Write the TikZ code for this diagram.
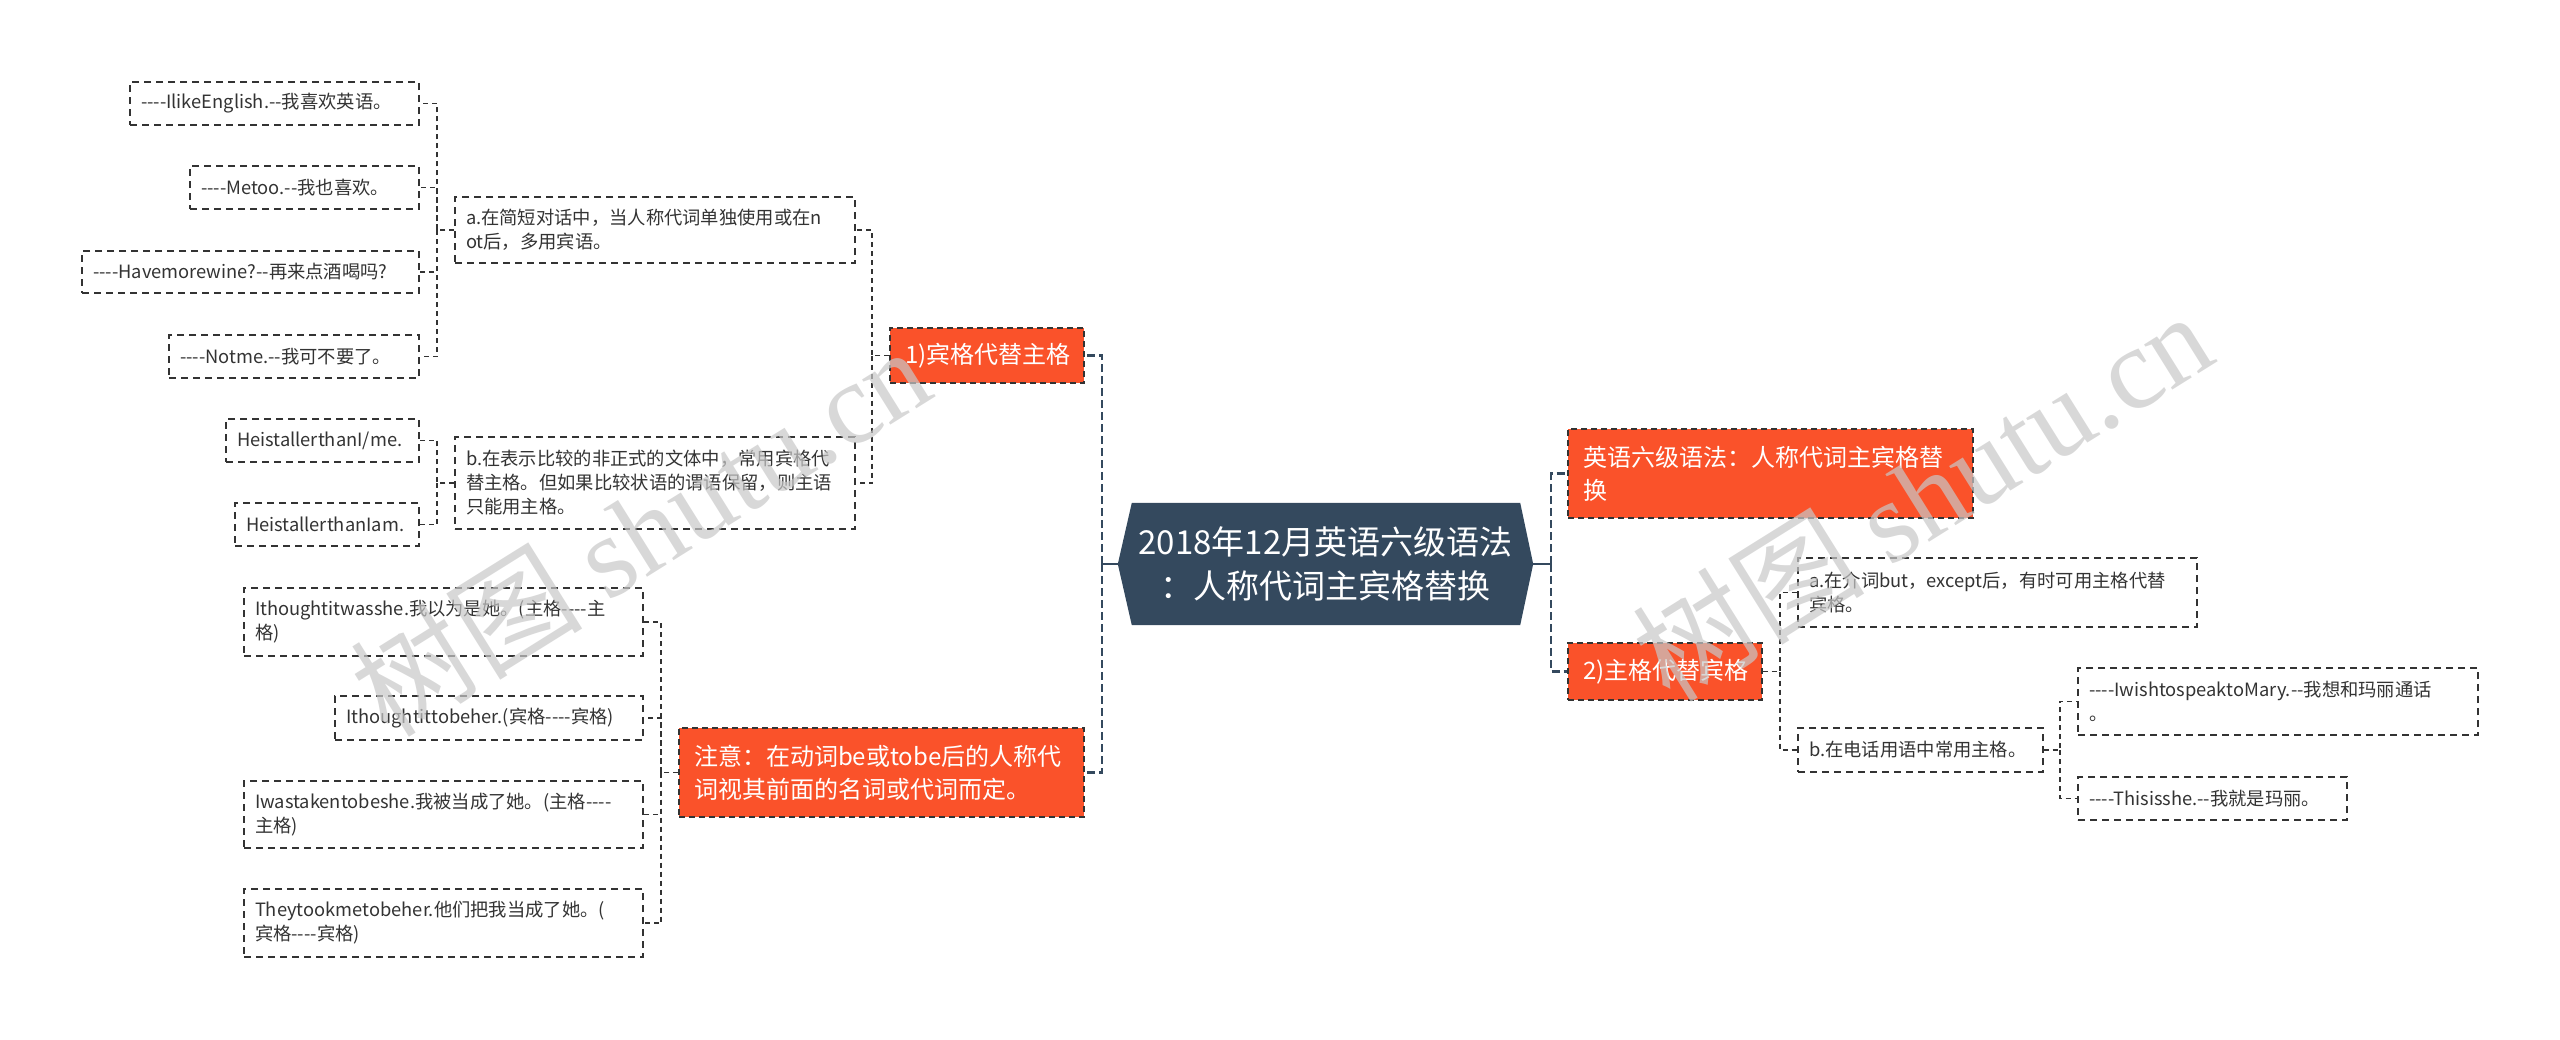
\documentclass[tikz,border=0pt]{standalone}
\usepackage{fontspec}
\setmainfont{Noto Sans CJK SC}[Ligatures=TeXOff]
\newfontfamily\wmfont{Liberation Serif}[Ligatures=TeXOff]
\usetikzlibrary{backgrounds}
\definecolor{orangec}{RGB}{250,82,42}
\definecolor{slatec}{RGB}{52,73,94}
\definecolor{linec}{RGB}{51,51,51}
\definecolor{textc}{RGB}{51,51,51}
\definecolor{wmc}{RGB}{200,200,200}
\begin{document}
\begin{tikzpicture}[x=1pt,y=-1pt,
  leaf/.style={draw=linec, line width=1.3pt, dash pattern=on 7pt off 5pt, fill=white,
    text=textc, font=\fontsize{18.3}{24}\selectfont, align=left, inner xsep=11pt, inner ysep=0pt},
  topic/.style={draw=linec, line width=1.3pt, dash pattern=on 6pt off 4pt, fill=orangec,
    text=white, font=\fontsize{24}{33}\selectfont, align=left, inner xsep=15pt, inner ysep=0pt},
  mainnode/.style={text=white, font=\fontsize{33}{44}\selectfont, align=center, inner sep=0pt},
  conn/.style={draw=linec, line width=1.8pt, dash pattern=on 5pt off 4pt},
  mconn/.style={draw=slatec, line width=2.6pt, dash pattern=on 8pt off 4pt},
  wm/.style={text=wmc, opacity=0.7, font=\fontsize{116}{116}\selectfont, inner sep=0pt}
]
\useasboundingbox (0,0) rectangle (2560,1039);

% bus coordinates
\coordinate (bx1) at (437,0);
\coordinate (bx2) at (872,0);
\coordinate (bx3) at (1102,0);
\coordinate (bx4) at (661,0);
\coordinate (bx5) at (1551,0);
\coordinate (bx6) at (1780,0);
\coordinate (bx7) at (2060,0);

% main node
\node[mainnode, minimum width=415pt, minimum height=122pt] (main) at (1325.5,564)
  {2018年12月英语六级语法\\：人称代词主宾格替换};
\begin{scope}[on background layer]
\fill[slatec] (main.west) -- ([xshift=14pt]main.north west) -- ([xshift=-13pt]main.north east)
  -- (main.east) -- ([xshift=-13pt]main.south east) -- ([xshift=14pt]main.south west) -- cycle;
\end{scope}

% left topics
\node[topic, minimum width=194pt, minimum height=55pt, text width=164pt] (N1) at (987,355.5) {1)宾格代替主格};
\node[topic, minimum width=405pt, minimum height=89pt, text width=375pt] (N2) at (881.5,772.5)
  {注意：在动词be或tobe后的人称代\\词视其前面的名词或代词而定。};

% sub topics of N1
\node[leaf, minimum width=400pt, minimum height=66pt, text width=378pt] (A) at (655,230)
  {a.在简短对话中，当人称代词单独使用或在n\\ot后，多用宾语。};
\node[leaf, minimum width=400pt, minimum height=92pt, text width=378pt] (B) at (655,483)
  {b.在表示比较的非正式的文体中，常用宾格代\\替主格。但如果比较状语的谓语保留，则主语\\只能用主格。};

\node[leaf, minimum width=289pt, minimum height=43pt, text width=267pt] (L1) at (274.5,103.5) {----IlikeEnglish.--我喜欢英语。};
\node[leaf, minimum width=229pt, minimum height=43pt, text width=207pt] (L2) at (304.5,187.5) {----Metoo.--我也喜欢。};
\node[leaf, minimum width=337pt, minimum height=42pt, text width=315pt] (L3) at (250.5,272) {----Havemorewine?--再来点酒喝吗?};
\node[leaf, minimum width=250pt, minimum height=43pt, text width=228pt] (L4) at (294,356.5) {----Notme.--我可不要了。};
\node[leaf, minimum width=193pt, minimum height=43pt, text width=171pt] (L5) at (322.5,440.5) {HeistallerthanI/me.};
\node[leaf, minimum width=184pt, minimum height=43pt, text width=162pt] (L6) at (327,524.5) {HeistallerthanIam.};

% children of N2
\node[leaf, minimum width=399pt, minimum height=68pt, text width=377pt] (L7) at (443.5,622)
  {Ithoughtitwasshe.我以为是她。(主格----主\\格)};
\node[leaf, minimum width=308pt, minimum height=44pt, text width=286pt] (L8) at (489,718)
  {Ithoughtittobeher.(宾格----宾格)};
\node[leaf, minimum width=399pt, minimum height=67pt, text width=377pt] (L9) at (443.5,814.5)
  {Iwastakentobeshe.我被当成了她。(主格----\\主格)};
\node[leaf, minimum width=399pt, minimum height=68pt, text width=377pt] (L10) at (443.5,923)
  {Theytookmetobeher.他们把我当成了她。(\\宾格----宾格)};

% right side
\node[topic, minimum width=405pt, minimum height=89pt, text width=375pt] (R1) at (1770.5,473.5)
  {英语六级语法：人称代词主宾格替\\换};
\node[topic, minimum width=194pt, minimum height=57pt, text width=164pt] (R2) at (1665,671.5) {2)主格代替宾格};
\node[leaf, minimum width=399pt, minimum height=69pt, text width=377pt] (R3) at (1997.5,592.5)
  {a.在介词but，except后，有时可用主格代替\\宾格。};
\node[leaf, minimum width=245pt, minimum height=44pt, text width=223pt] (R4) at (1920.5,750)
  {b.在电话用语中常用主格。};
\node[leaf, minimum width=400pt, minimum height=67pt, text width=378pt] (R5) at (2278,701.5)
  {----IwishtospeaktoMary.--我想和玛丽通话\\。};
\node[leaf, minimum width=269pt, minimum height=43pt, text width=247pt] (R6) at (2212.5,798.5)
  {----Thisisshe.--我就是玛丽。};

% connectors
\begin{scope}[on background layer]
\draw[slatec, line width=2.6pt] (main.west) -- (main.west -| bx3);
\draw[mconn] (main.west -| bx3) |- (N1.east);
\draw[mconn] (main.west -| bx3) |- (N2.east);
\draw[slatec, line width=2.6pt] (main.east) -- (main.east -| bx5);
\draw[mconn] (main.east -| bx5) |- (R1.west);
\draw[mconn] (main.east -| bx5) |- (R2.west);

\draw[conn] (N1.west) -- (N1.west -| bx2) |- (A.east);
\draw[conn] (N1.west -| bx2) |- (B.east);

\draw[conn] (A.west) -- (A.west -| bx1) |- (L1.east);
\draw[conn] (A.west -| bx1) |- (L2.east);
\draw[conn] (A.west -| bx1) |- (L3.east);
\draw[conn] (A.west -| bx1) |- (L4.east);
\draw[conn] (B.west) -- (B.west -| bx1) |- (L5.east);
\draw[conn] (B.west -| bx1) |- (L6.east);

\draw[conn] (N2.west) -- (N2.west -| bx4) |- (L7.east);
\draw[conn] (N2.west -| bx4) |- (L8.east);
\draw[conn] (N2.west -| bx4) |- (L9.east);
\draw[conn] (N2.west -| bx4) |- (L10.east);

\draw[conn] (R2.east) -- (R2.east -| bx6) |- (R3.west);
\draw[conn] (R2.east -| bx6) |- (R4.west);
\draw[conn] (R4.east) -- (R4.east -| bx7) |- (R5.west);
\draw[conn] (R4.east -| bx7) |- (R6.west);
\end{scope}

% watermarks
\node[wm, rotate=32] (wm1) at (640,530) {树图 {\wmfont shutu.cn}};
\node[wm, rotate=32] (wm2) at (1922,495) {树图 {\wmfont shutu.cn}};
\end{tikzpicture}
\end{document}
